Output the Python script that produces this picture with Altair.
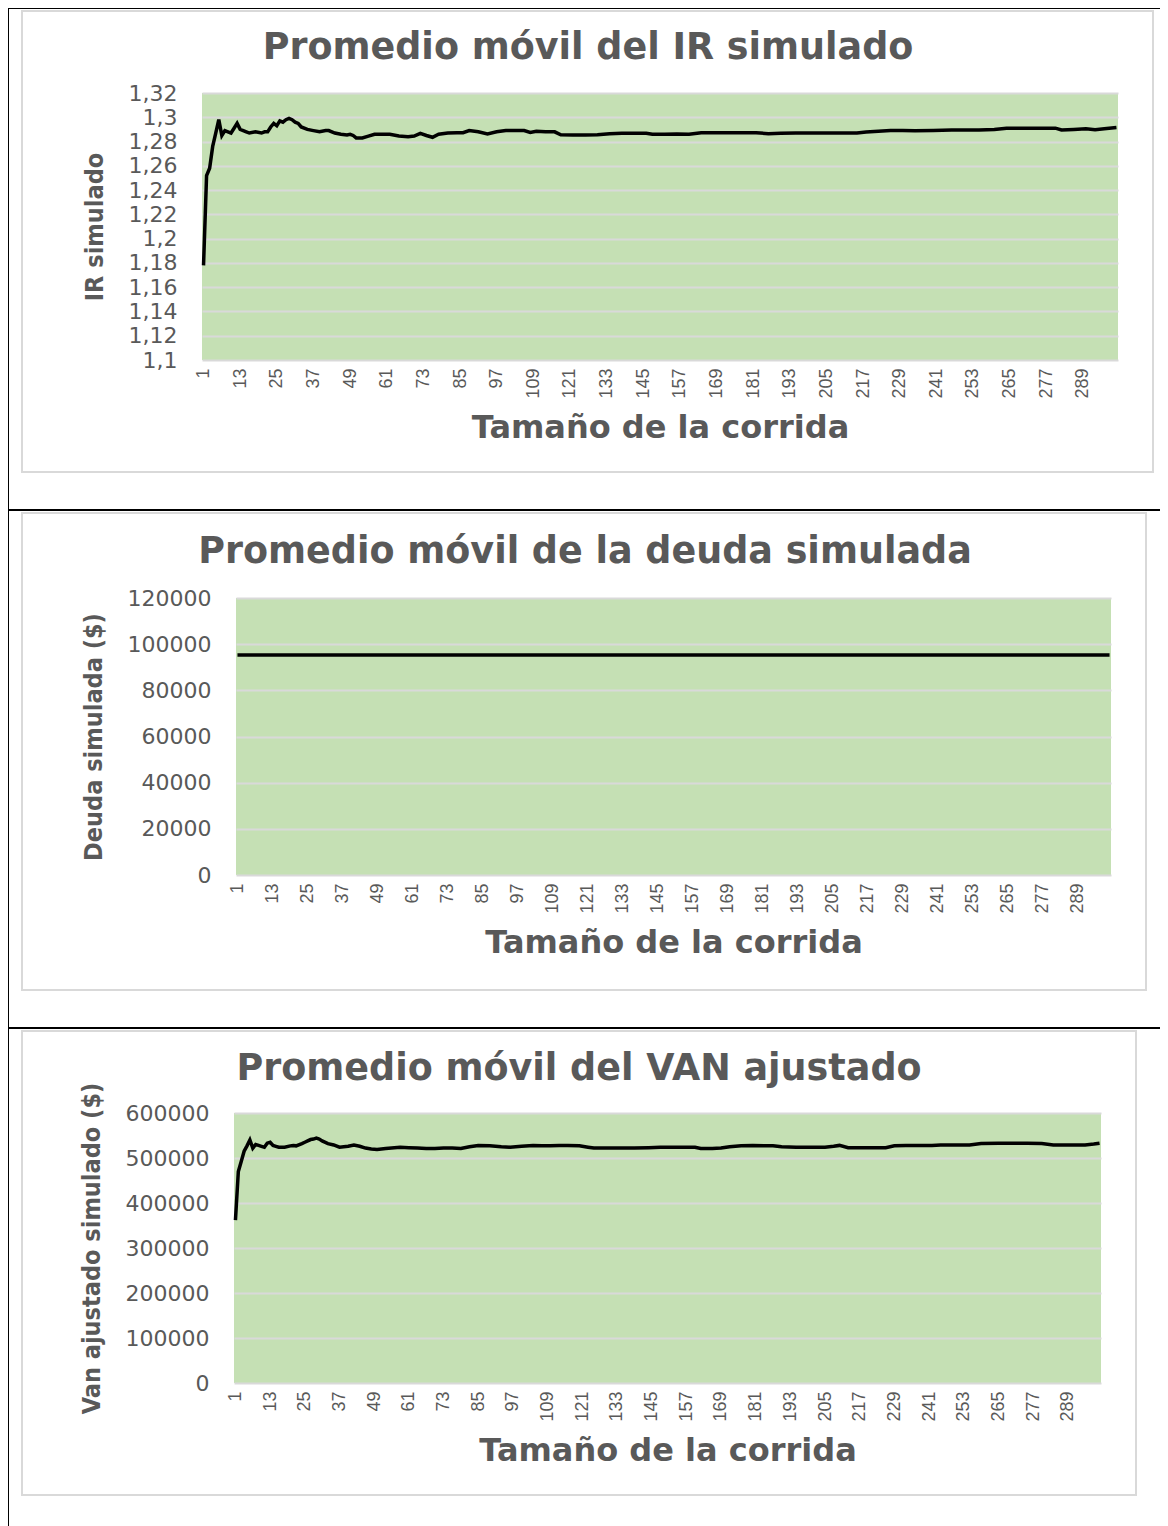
import altair as alt
import pandas as pd

# ---------------- data ----------------
IR_RUNS = [1, 2, 3, 4, 5, 6, 7, 8, 9, 10,
           11, 12, 13, 14, 15, 16, 18, 20, 21, 22,
           23, 24, 25, 26, 27, 28, 29, 30, 31, 32,
           33, 35, 37, 39, 41, 42, 44, 46, 48, 49,
           50, 51, 53, 55, 57, 59, 62, 65, 68, 70,
           72, 74, 76, 78, 81, 84, 86, 88, 91, 94,
           97, 100, 103, 106, 108, 110, 113, 116, 118, 122,
           126, 130, 134, 138, 142, 146, 148, 152, 156, 160,
           164, 170, 176, 182, 186, 190, 195, 200, 205, 210,
           215, 218, 222, 226, 230, 234, 240, 246, 250, 255,
           260, 264, 270, 275, 280, 282, 284, 286, 290, 293,
           296, 300]
IR_VALUES = [1.178, 1.252, 1.258, 1.276, 1.287, 1.298, 1.285, 1.289, 1.288, 1.287,
             1.291, 1.295, 1.290, 1.289, 1.288, 1.287, 1.288, 1.287, 1.288, 1.288,
             1.292, 1.295, 1.293, 1.297, 1.296, 1.298, 1.299, 1.298, 1.296, 1.295,
             1.292, 1.290, 1.289, 1.288, 1.289, 1.289, 1.287, 1.286, 1.2855, 1.286,
             1.285, 1.283, 1.283, 1.2845, 1.286, 1.286, 1.286, 1.2845, 1.284, 1.2845,
             1.2868, 1.285, 1.2835, 1.286, 1.287, 1.2873, 1.2873, 1.289, 1.288, 1.2862,
             1.288, 1.289, 1.289, 1.289, 1.2875, 1.2885, 1.288, 1.288, 1.2855, 1.2854,
             1.2854, 1.2856, 1.2864, 1.2868, 1.2868, 1.2868, 1.286, 1.286, 1.2862, 1.286,
             1.2873, 1.2873, 1.2873, 1.2873, 1.2865, 1.2868, 1.287, 1.287, 1.287, 1.287,
             1.287, 1.2878, 1.2885, 1.289, 1.289, 1.2888, 1.289, 1.2895, 1.2895, 1.2895,
             1.290, 1.291, 1.291, 1.291, 1.291, 1.2895, 1.2898, 1.290, 1.2905, 1.2898,
             1.2905, 1.2915]

DEUDA_RUNS = [1, 50, 100, 150, 200, 250, 300]
DEUDA_VALUES = [95300, 95300, 95300, 95300, 95300, 95300, 95300]

VAN_RUNS = [1, 2, 3, 4, 5, 6, 7, 8, 9, 10,
            11, 12, 13, 14, 15, 16, 18, 20, 21, 22,
            24, 25, 26, 27, 28, 29, 30, 31, 33, 35,
            37, 40, 42, 44, 46, 48, 50, 53, 56, 58,
            61, 64, 67, 70, 73, 76, 79, 82, 85, 89,
            93, 96, 100, 104, 107, 110, 113, 116, 120, 123,
            125, 130, 135, 139, 144, 148, 152, 156, 160, 162,
            166, 169, 172, 176, 180, 184, 187, 190, 195, 200,
            205, 208, 210, 213, 218, 222, 226, 229, 233, 238,
            242, 245, 250, 255, 259, 265, 270, 275, 280, 284,
            290, 295, 298, 300]
VAN_VALUES = [362000, 470000, 492000, 515000, 527000, 540000, 522000, 530000, 528000, 526000,
              524000, 533000, 535000, 528000, 526000, 524000, 524000, 527000, 528000, 527000,
              532000, 535000, 538000, 541000, 542000, 544000, 542000, 538000, 532000, 529000,
              524000, 526000, 529000, 526000, 522000, 520000, 519000, 521000, 523000, 524000,
              523000, 522000, 521000, 521000, 522000, 522000, 521000, 525000, 528000, 527000,
              525000, 524000, 526000, 528000, 527000, 527000, 528000, 528000, 527000, 524000,
              522000, 522000, 522000, 522000, 523000, 524000, 524000, 524000, 524000, 521000,
              521000, 522000, 525000, 527000, 528000, 527000, 527000, 525000, 524000, 524000,
              524000, 526000, 528000, 523000, 523000, 523000, 523000, 527000, 528000, 528000,
              528000, 529000, 529000, 529000, 532000, 533000, 533000, 533000, 532000, 529000,
              529000, 529000, 531000, 533000]

X_TICKS = [1, 13, 25, 37, 49, 61, 73, 85, 97, 109, 121, 133, 145, 157, 169,
           181, 193, 205, 217, 229, 241, 253, 265, 277, 289]
IR_TICKS = [1.1, 1.12, 1.14, 1.16, 1.18, 1.2, 1.22, 1.24, 1.26, 1.28, 1.3, 1.32]
DEUDA_TICKS = [0, 20000, 40000, 60000, 80000, 100000, 120000]
VAN_TICKS = [0, 100000, 200000, 300000, 400000, 500000, 600000]

TITLES = ["Promedio móvil del IR simulado",
          "Promedio móvil de la deuda simulada",
          "Promedio móvil del VAN ajustado"]
Y_TITLES = ["IR simulado", "Deuda simulada ($)", "Van ajustado simulado ($)"]
X_TITLE = "Tamaño de la corrida"

# ---------------- styling ----------------
GREEN = "#C5E0B4"
GRID = "#D9D9D9"
TEXT = "#595959"
FRAME = "#D9D9D9"
BIG_FONT = "DejaVu Sans"
YT_FONT = "'DejaVu Sans Condensed', 'Liberation Sans', sans-serif"

DUMMY = pd.DataFrame({"k": [0]})


def rect_layer(box, color, origin):
    x1, x2, y1, y2 = box
    ox, oy = origin
    return alt.Chart(DUMMY).mark_rect(fill=color).encode(
        x=alt.value(x1 - ox), x2=alt.value(x2 - ox),
        y=alt.value(y1 - oy), y2=alt.value(y2 - oy))


def frame_boxes(x1, x2, y1, y2, t=2):
    return [(x1, x2, y1, y1 + t), (x1, x2, y2 - t, y2),
            (x1, x1 + t, y1, y2), (x2 - t, x2, y1, y2)]


def panel(runs, values, ticks, label_expr, title, y_title, width, height,
          origin, black_boxes, frame, title_dx, title_offset):
    df = pd.DataFrame({"run": runs, "value": values})
    line = alt.Chart(df).mark_line(color="black", strokeWidth=3.5).encode(
        x=alt.X("run:Q",
                scale=alt.Scale(domain=[0.5, 300.5], nice=False, zero=False),
                axis=alt.Axis(values=X_TICKS, title=X_TITLE, labelAngle=270,
                              labelFont="Liberation Sans", labelFontSize=18,
                              labelColor=TEXT, labelPadding=8, domain=False,
                              ticks=False, grid=False, labelOverlap=False,
                              labelFlush=False, titleFont=BIG_FONT,
                              titleFontSize=32, titleFontWeight="bold",
                              titleColor=TEXT, titlePadding=14)),
        y=alt.Y("value:Q",
                scale=alt.Scale(domain=[ticks[0], ticks[-1]], nice=False, zero=False),
                axis=alt.Axis(values=ticks, labelExpr=label_expr, title=y_title,
                              domain=False, ticks=False, grid=True,
                              gridColor=GRID, gridWidth=2,
                              labelFont=BIG_FONT, labelFontSize=22,
                              labelColor=TEXT, labelPadding=25,
                              titleFont=YT_FONT, titleFontSize=25,
                              titleFontWeight="bold", titleColor=TEXT,
                              titlePadding=21)))
    decos = [rect_layer(b, "black", origin) for b in black_boxes]
    decos += [rect_layer(b, FRAME, origin) for b in frame_boxes(*frame)]
    return alt.layer(*decos, line).properties(
        width=width, height=height,
        view=alt.ViewBackground(fill=GREEN, stroke=None),
        title=alt.TitleParams(title, frame="group", anchor="middle", dx=title_dx,
                              offset=title_offset, baseline="alphabetic",
                              font=BIG_FONT, fontSize=36.5, fontWeight="bold",
                              color=TEXT))


IR_EXPR = "replace(format(datum.value, '.2~f'), '.', ',')"
INT_EXPR = "format(datum.value, 'd')"

c1 = panel(IR_RUNS, IR_VALUES, IR_TICKS, IR_EXPR, TITLES[0], Y_TITLES[0],
           916, 267, (202, 93),
           [(7, 1400, 7, 9), (7, 9, 7, 511), (7, 1400, 509, 511)],
           (21, 1154, 10, 473), -72, -88)
c2 = panel(DEUDA_RUNS, DEUDA_VALUES, DEUDA_TICKS, INT_EXPR, TITLES[1], Y_TITLES[1],
           875, 277, (236, 598),
           [(7, 9, 511, 1029), (7, 1366, 1027, 1029)],
           (21, 1147, 512, 991), -88.5, -88)
c3 = panel(VAN_RUNS, VAN_VALUES, VAN_TICKS, INT_EXPR, TITLES[2], Y_TITLES[2],
           867, 270, (234, 1113),
           [(7, 9, 1029, 1526), (1360, 1368, 1100, 1101)],
           (21, 1137, 1030, 1496), -88.5, -87)

chart = alt.ConcatChart(
    concat=[c1, c2, c3], columns=1, align="each", center=True,
    bounds="full", spacing=0,
).properties(
    autosize=alt.AutoSizeParams(type="none"),
    padding={"left": 194, "top": 85, "right": 958, "bottom": 1433},
).configure(background="white").configure_view(stroke=None)

chart.save("out.html", embed_options={"renderer": "svg", "actions": False})
